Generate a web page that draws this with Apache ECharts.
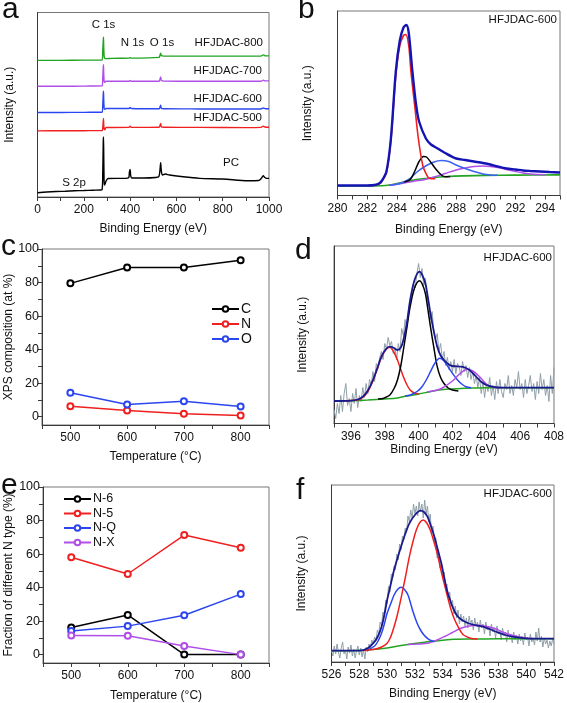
<!DOCTYPE html>
<html><head><meta charset="utf-8">
<script src="https://cdn.jsdelivr.net/npm/echarts@6/dist/echarts.min.js"></script>
<style>html,body{margin:0;padding:0;background:#fff}#c{width:567px;height:703px}</style>
</head><body><div id="c"></div>
<script>
// ---------- Panel a : survey spectra [eV, intensity a.u.] ----------
var aPC = [[0,4.3],[40,5],[80,5.5],[120,5.8],[160,6.2],[200,6.5],[240,6.8],[270,7],[279,7.5],[282,25],[284,55],[285,60.3],[286,45],[287.5,18],[289,12],[292,13],[296,16],[305,18.5],[340,18.7],[380,18.7],[394,19.5],[397,25],[400,27.7],[403,21],[408,19],[460,19],[510,19.5],[524,20.5],[529,27],[532,34.3],[535,26],[540,22],[552,23],[570,22],[620,20.5],[700,18.7],[800,18],[910,16.3],[955,16.5],[968,19],[975,21.3],[982,19.5],[990,18.7],[1000,18.7]];
var a500 = [[0,66.3],[100,66.4],[200,66.5],[279,66.6],[282,70],[284,76],[285,78.7],[286,73],[288,68],[291,67.5],[296,69.7],[320,69.7],[395,69.8],[400,71],[405,69.8],[525,70],[529,71.5],[532,73.7],[535,70.5],[545,70],[700,69.8],[900,69.6],[965,69.8],[975,71],[985,70],[1000,70]];
var a600 = [[0,84.7],[100,84.8],[200,84.9],[279,85],[282,93],[284,103],[285,106],[286,98],[288,89],[291,88],[296,88.7],[320,88.7],[395,88.8],[400,89.7],[405,88.8],[525,88.5],[529,90],[532,92],[535,89],[545,88.5],[700,88.3],[900,88.2],[965,88.3],[975,89.3],[985,88.5],[1000,88.5]];
var a700 = [[0,111],[100,111],[200,111.2],[279,111.4],[282,120],[284,130],[285,132.7],[286,124],[288,116],[291,115],[296,116],[320,116],[395,116],[400,116.8],[405,116],[525,116],[529,118],[532,120.3],[535,117],[545,116.2],[700,116],[900,116],[965,116],[975,117.2],[985,116.4],[1000,116.4]];
var a800 = [[0,137],[100,137],[200,137.2],[279,137.3],[282,147],[284,157],[285,160.3],[286,151],[288,141],[291,139],[296,138.7],[320,139],[395,139.3],[400,139.6],[405,139.3],[525,140],[529,142],[532,144.3],[535,141.8],[545,141.3],[700,141.3],[900,141.3],[965,141.3],[975,142.5],[985,141.5],[1000,141.5]];

// ---------- Panel b : C 1s fit ----------
var bEnvelope = [[280,10],[281,10],[282,10],[282.5,10.5],[282.8,12],[283.0,15],[283.3,24],[283.6,57],[283.93,124],[284.2,155],[284.45,168],[284.64,170.5],[284.8,163],[285.05,124],[285.3,90.5],[285.5,74],[285.96,57],[286.3,51],[286.75,47],[287.25,42.5],[288.0,37],[288.6,35.5],[289.2,34],[289.8,32.5],[290.3,31],[290.8,29],[291.4,27],[292.0,26],[292.5,25],[293.0,24.5],[293.65,24],[294.3,23.5],[295,23]];
var bRed = [[282.5,10],[282.8,11.5],[283.0,14.5],[283.3,23],[283.6,55],[283.93,120],[284.2,150],[284.45,160],[284.6,161],[284.8,150],[284.95,124],[285.2,90.5],[285.45,57],[285.75,30],[286.0,21],[286.2,17],[286.6,16.8]];
var bBlack = [[284.5,13.5],[284.9,16],[285.2,24],[285.5,34],[285.8,39],[286.0,38.5],[286.3,33],[286.6,27],[287.0,20.5],[287.3,18.8],[287.6,19]];
var bBlue = [[283.5,10.3],[284.1,11.5],[284.8,16],[285.4,24],[286.0,30],[286.5,33.5],[287.0,35],[287.5,34],[288.0,30.5],[288.6,27],[289.2,24],[289.8,21.5],[290.3,20.5],[290.8,20.3]];
var bPurple = [[283.5,10.2],[284.5,12.5],[285.2,14.5],[285.9,16],[286.5,18.5],[287.25,22],[288.0,25.5],[288.6,27.5],[289.2,29],[289.8,29.5],[290.3,29],[290.8,28],[291.4,26],[292.0,24],[292.5,22.5],[293.0,21.5],[293.5,21],[294,20.8]];
var bGreen = [[280,9.5],[283.0,9.8],[283.5,10.5],[284.0,12],[284.5,13.5],[284.8,14.5],[285.3,16],[285.9,17],[286.5,18],[287.25,18.8],[288.5,19.6],[290,20.1],[292,20.4],[295,20.6]];

// ---------- Panel c : XPS composition ----------
var temps = [500,600,700,800];
var cC = [79.5,89,89,93.3];
var cN = [6.2,3.7,1.7,0.6];
var cO = [14.2,7.2,9.2,6.0];

// ---------- Panel d : N 1s fit ----------
var dStart = 395.0, dStep = 0.1;
var dRaw = [
 14,5,20,10,28,12,30,40,18,25,
 12,30,20,35,16,28,22,36,26,40,
 30,44,38,52,42,60,55,66,72,64,
 80,74,86,78,82,70,76,64,80,72,
 95,88,104,96,112,120,128,140,136,150,
 160,146,155,138,145,125,118,104,112,92,
 84,90,72,80,64,72,58,66,54,62,
 52,64,50,60,56,48,62,52,58,46,
 56,44,52,40,48,36,46,30,42,26,
 40,32,46,28,38,24,42,30,44,32,
 26,40,34,48,30,38,28,44,36,52,
 34,40,26,44,30,38,48,32,40,24,
 42,30,50,34,44,28,38,22,48,30,
 56];
var dEnvelope = [[395,22.5],[396,22.8],[396.4,24],[396.7,26.8],[397.0,33],[397.3,43.5],[397.55,55],[397.8,66.8],[398.05,74],[398.3,76.8],[398.55,75.5],[398.75,73.5],[398.95,76],[399.1,83.5],[399.3,100],[399.5,123.5],[399.75,143],[400.05,151.8],[400.2,149],[400.4,140],[400.55,126],[400.7,110],[400.9,92],[401.1,76.8],[401.3,68],[401.5,63.5],[401.75,59.5],[402,57.5],[402.5,56.8],[402.8,55.5],[403,53.5],[403.25,49.5],[403.5,45],[403.75,41],[404,38.5],[404.35,36.8],[404.7,36],[405.5,35.8],[406,35.8],[408,35.8]];
var dRed = [[395.5,22.8],[396.4,23.5],[396.7,26],[397.0,32],[397.3,42.5],[397.55,54],[397.8,66],[398.05,73.5],[398.3,76.2],[398.55,71],[398.75,63.5],[398.95,54],[399.1,46.8],[399.3,39],[399.5,33.5],[399.75,30.5],[400,29.5]];
var dBlack = [[397.6,24.5],[397.9,25],[398.1,26.5],[398.3,28.5],[398.55,35],[398.75,43.5],[398.95,58],[399.1,73.5],[399.3,95],[399.5,116.8],[399.75,135],[400.05,142.8],[400.2,140],[400.4,130],[400.55,114],[400.7,96.8],[400.9,76],[401.1,56.8],[401.3,46],[401.5,40],[401.75,35.5],[402,33.5],[402.35,32.5]];
var dBlue = [[399.2,27.5],[399.5,28.5],[399.7,30],[399.95,32.5],[400.2,36.8],[400.45,43.5],[400.7,51.8],[400.95,60],[401.25,65.2],[401.5,62.5],[401.8,55.2],[402.05,49],[402.3,43.5],[402.55,39.5],[402.8,36.8],[403.1,35.8]];
var dPurple = [[400.5,31.5],[400.9,32.8],[401.2,34],[401.5,36.5],[401.8,40],[402.1,44],[402.35,48.5],[402.6,52],[402.9,54.2],[403.2,52.5],[403.5,48.5],[403.75,44],[404,39.5],[404.25,37.3],[404.5,36],[404.8,35.8]];
var dGreen = [[395,22.5],[396,22.8],[397,23.5],[398,24.5],[398.75,25.5],[399.3,27.5],[400,29.5],[400.6,31.5],[401.2,33.5],[401.8,34.5],[402.5,35],[403.2,35.5],[404,35.8],[408,35.8]];

// ---------- Panel e : N types ----------
var eN6 = [16.2,23.7,0,0];
var eN5 = [58.1,48.1,71.3,63.8];
var eNQ = [14.1,17,23.5,36.1];
var eNX = [11.4,11.2,5.2,0];

// ---------- Panel f : O 1s fit ----------
var fStart = 526.0, fStep = 0.1;
var fRaw = [
 12,6,16,8,18,10,4,14,20,8,
 12,3,15,9,17,6,13,4,11,16,
 7,14,5,12,3,15,10,18,14,22,
 18,25,22,32,28,40,36,50,46,62,
 58,76,70,88,84,96,92,108,102,118,
 112,126,122,134,130,146,140,152,144,158,
 148,156,146,160,150,158,144,162,148,156,
 140,148,128,136,120,124,104,112,94,100,
 84,90,74,78,64,70,56,62,48,56,
 44,52,38,48,40,46,36,44,34,46,
 38,42,32,44,36,40,30,42,34,38,
 28,40,32,36,26,38,30,34,24,36,
 28,32,22,34,26,30,20,32,24,28,
 19,30,22,27,18,28,21,26,17,29,
 22,25,16,28,20,24,17,30,21,34,
 20,26,15,24,18,22,14,21,16,23,
 18];
var fEnvelope = [[526,11.3],[527,11.3],[528,11.3],[528.6,13.7],[529.1,20.3],[529.35,26],[529.6,35.3],[529.8,47],[530,62],[530.25,77],[530.5,92],[530.75,104],[531,115.3],[531.3,128],[531.6,138.7],[532,147],[532.4,151.3],[532.65,150],[532.9,145.3],[533.15,136],[533.4,125.3],[533.65,112],[533.9,98.7],[534.1,85],[534.3,72],[534.55,61],[534.8,52],[535.05,46],[535.3,42.7],[535.65,40],[536,38],[536.45,36.5],[536.9,35.3],[537.45,32.5],[538,29.3],[538.5,27],[539,25.3],[539.5,24.3],[540,23.7],[541,23.4],[542,23.3]];
var fRed = [[528.3,11.5],[529.1,12.7],[529.6,15],[530,18.7],[530.25,25],[530.5,35.3],[530.75,48],[531,63.7],[531.3,84],[531.6,105.3],[531.85,120],[532.1,132],[532.35,139.5],[532.6,142],[532.85,139],[533.1,132],[533.35,121],[533.6,108.7],[533.85,93],[534.1,78.7],[534.35,65],[534.6,52],[534.85,42.5],[535.1,35.3],[535.3,30.5],[535.5,27],[536,23.7],[536.5,23]];
var fBlue = [[528.6,12],[529.1,16],[529.35,21],[529.6,28.7],[529.8,38],[530,48.7],[530.25,58],[530.5,67],[530.75,72.5],[531,74.7],[531.25,72.5],[531.5,67],[531.7,58],[531.9,48.7],[532.15,39],[532.4,32],[532.65,27],[532.9,23.7],[533.15,21.5],[533.4,20.3]];
var fPurple = [[531.5,17.5],[532.2,18],[532.9,18.7],[533.5,21.5],[534.1,25.3],[534.7,29.5],[535.3,33.7],[535.9,36],[536.5,36.7],[537.1,35.8],[537.7,33.7],[538.3,30],[538.9,27],[539.5,25],[540,23.7],[540.5,23.4]];
var fGreen = [[526,11.3],[528,11.5],[529,12.5],[530,14],[530.5,15.3],[531.5,17.5],[532.9,20.3],[534,21.8],[534.8,22.7],[536,23],[538,23.2],[542,23.3]];

// ---------- build ----------
var FONT = '"Liberation Sans", Arial, sans-serif';
var TXT = '#111';
var AX = '#3a3a3a';
function raw(start, step, arr){ return arr.map(function(v,i){ return [+(start+i*step).toFixed(2), v]; }); }

var grids = [
  {left:37.5, top:12.5, width:231.5, height:184.5},
  {left:337.5, top:11, width:222.5, height:184.5},
  {left:42, top:249, width:227, height:176},
  {left:334, top:246, width:223, height:177.5},
  {left:43, top:487, width:226, height:176},
  {left:331.5, top:485, width:223.5, height:177}
].map(function(g){ g.show=true; g.borderColor='#777'; g.borderWidth=1; g.containLabel=false; return g; });

function xAx(gi, min, max, interval, fmt, name, gap){
  return {type:'value', gridIndex:gi, min:min, max:max, interval:interval,
    axisLine:{show:true, onZero:false, lineStyle:{color:AX, width:1}},
    axisTick:{show:true, length:4, lineStyle:{color:AX}},
    axisLabel:{fontSize:12, fontFamily:FONT, color:TXT, margin:7, formatter:fmt, showMinLabel:true, showMaxLabel:true},
    splitLine:{show:false},
    name:name, nameLocation:'middle', nameGap:gap,
    nameTextStyle:{fontSize:12, fontFamily:FONT, color:TXT}};
}
function yAxBlank(gi, max, gap){
  return {type:'value', gridIndex:gi, min:0, max:max,
    axisLine:{show:true, lineStyle:{color:AX, width:1}},
    axisTick:{show:false}, axisLabel:{show:false}, splitLine:{show:false},
    name:'Intensity (a.u.)', nameLocation:'middle', nameRotate:90, nameGap:gap,
    nameTextStyle:{fontSize:12, fontFamily:FONT, color:TXT}};
}
function yAxPct(gi, name, gap){
  return {type:'value', gridIndex:gi, min:-5, max:100,
    axisLine:{show:true, onZero:false, lineStyle:{color:AX, width:1}},
    axisTick:{show:true, length:4, lineStyle:{color:AX}, customValues:[0,10,20,30,40,50,60,70,80,90,100]},
    axisLabel:{fontSize:12.5, fontFamily:FONT, color:TXT, margin:3, customValues:[0,20,40,60,80,100]},
    splitLine:{show:false},
    name:name, nameLocation:'middle', nameRotate:90, nameGap:gap,
    nameTextStyle:{fontSize:12, fontFamily:FONT, color:TXT}};
}
function evenFmt(v){ return (Math.round(v)%2===0) ? String(Math.round(v)) : ''; }
function tempFmt(v){ return (v%100===0 && v>=500 && v<=800) ? String(v) : ''; }

var xAxes = [
  xAx(0, 0, 1000, 100, function(v){ return v%200===0 ? String(v) : ''; }, 'Binding Energy (eV)', 26),
  xAx(1, 280, 295, 1, function(v){ return (v%2===0 && v<295) ? String(v) : ''; }, 'Binding Energy (eV)', 28),
  xAx(2, 450, 850, 50, tempFmt, 'Temperature (\u00B0C)', 26),
  xAx(3, 395, 408, 1, function(v){ return (v%2===0 && v>395) ? String(v) : ''; }, 'Binding Energy (eV)', 16),
  xAx(4, 450, 850, 50, tempFmt, 'Temperature (\u00B0C)', 27),
  xAx(5, 526, 542, 1, evenFmt, 'Binding Energy (eV)', 26)
];
var yAxes = [
  yAxBlank(0, 185, 22),
  yAxBlank(1, 184.5, 24),
  yAxPct(2, 'XPS composition (at %)', 27),
  yAxBlank(3, 177.5, 25),
  yAxPct(4, 'Fraction of different N type (%)', 28),
  yAxBlank(5, 177, 24)
];

function ln(idx, data, color, w, z){
  return {type:'line', xAxisIndex:idx, yAxisIndex:idx, data:data, showSymbol:false, symbol:'none',
    smooth:0.3, lineStyle:{color:color, width:w}, itemStyle:{color:color}, z:z||2, silent:true, animation:false};
}
function pts(idx, name, vals, color){
  return {type:'line', name:name, xAxisIndex:idx, yAxisIndex:idx,
    data:temps.map(function(t,i){ return [t, vals[i]]; }),
    symbol:'emptyCircle', symbolSize:6, showSymbol:true,
    lineStyle:{color:color, width:1.5}, itemStyle:{color:color, borderColor:color, borderWidth:1.5},
    animation:false, z:3};
}

var GREEN='#22a322', RED='#f02020', BLUE='#2b46f0', PURPLE='#b04ee8', NAVY='#1a1a8e', GREY='#8fa0a8';

var series = [
  ln(0, aPC, '#000', 1.4), ln(0, a500, RED, 1.4), ln(0, a600, BLUE, 1.4), ln(0, a700, PURPLE, 1.4), ln(0, a800, GREEN, 1.4),

  ln(1, bGreen, GREEN, 1.6), ln(1, bPurple, PURPLE, 1.5), ln(1, bBlue, '#3a62f0', 1.5), ln(1, bBlack, '#000', 1.5),
  ln(1, bRed, RED, 1.6), ln(1, bEnvelope, '#1414b4', 2.4, 4),

  pts(2, 'C', cC, '#000'), pts(2, 'N', cN, RED), pts(2, 'O', cO, BLUE),

  {type:'line', xAxisIndex:3, yAxisIndex:3, data:raw(dStart, dStep, dRaw), showSymbol:false, symbol:'none',
    lineStyle:{color:GREY, width:1}, animation:false, silent:true, z:1},
  ln(3, dGreen, GREEN, 1.5), ln(3, dRed, RED, 1.5), ln(3, dBlack, '#000', 1.5), ln(3, dBlue, BLUE, 1.5),
  ln(3, dPurple, PURPLE, 1.5), ln(3, dEnvelope, NAVY, 1.8, 4),

  pts(4, 'N-6', eN6, '#000'), pts(4, 'N-5', eN5, RED), pts(4, 'N-Q', eNQ, BLUE), pts(4, 'N-X', eNX, PURPLE),

  {type:'line', xAxisIndex:5, yAxisIndex:5, data:raw(fStart, fStep, fRaw), showSymbol:false, symbol:'none',
    lineStyle:{color:GREY, width:1}, animation:false, silent:true, z:1},
  ln(5, fGreen, GREEN, 1.5), ln(5, fPurple, PURPLE, 1.5), ln(5, fBlue, BLUE, 1.5), ln(5, fRed, RED, 1.5),
  ln(5, fEnvelope, NAVY, 1.8, 4)
];

function txt(x, y, s, size, align){
  return {type:'text', x:x, y:y, silent:true, z:10,
    style:{text:s, fontSize:size, fontFamily:FONT, fill:TXT, align:align||'left', verticalAlign:'middle'}};
}

var option = {
  backgroundColor:'#fff',
  animation:false,
  grid:grids, xAxis:xAxes, yAxis:yAxes, series:series,
  legend:[
    {data:['C','N','O'], left:206, top:296.5, orient:'vertical', itemWidth:27, itemHeight:7, itemGap:0,
      textStyle:{fontSize:14, lineHeight:15, fontFamily:FONT, color:TXT, padding:[0,0,0,-3]}, selectedMode:false},
    {data:['N-6','N-5','N-Q','N-X'], left:58, top:486.5, orient:'vertical', itemWidth:27, itemHeight:7, itemGap:-0.5,
      textStyle:{fontSize:12.5, lineHeight:15, fontFamily:FONT, color:TXT, padding:[0,0,0,-3]}, selectedMode:false}
  ],
  graphic:[
    txt(2, 10, 'a', 30), txt(298, 10, 'b', 30), txt(1, 247, 'c', 30),
    txt(295, 251, 'd', 30), txt(1, 486, 'e', 30), txt(296, 491, 'f', 30),
    txt(103.5, 25, 'C 1s', 11.5, 'center'), txt(132.5, 43, 'N 1s', 11.5, 'center'), txt(162, 43, 'O 1s', 11.5, 'center'),
    txt(263, 43, 'HFJDAC-800', 11.5, 'right'), txt(262, 71, 'HFJDAC-700', 11.5, 'right'),
    txt(262, 98.5, 'HFJDAC-600', 11.5, 'right'), txt(262, 118, 'HFJDAC-500', 11.5, 'right'),
    txt(231, 163, 'PC', 11.5, 'center'), txt(74, 183, 'S 2p', 11.5, 'center'),
    txt(557, 20, 'HFJDAC-600', 11.5, 'right'), txt(552, 258, 'HFJDAC-600', 11.5, 'right'),
    txt(552, 494, 'HFJDAC-600', 11.5, 'right')
  ]
};
var chart = echarts.init(document.getElementById('c'), null, {renderer:'canvas'});
chart.setOption(option);
</script></body></html>
